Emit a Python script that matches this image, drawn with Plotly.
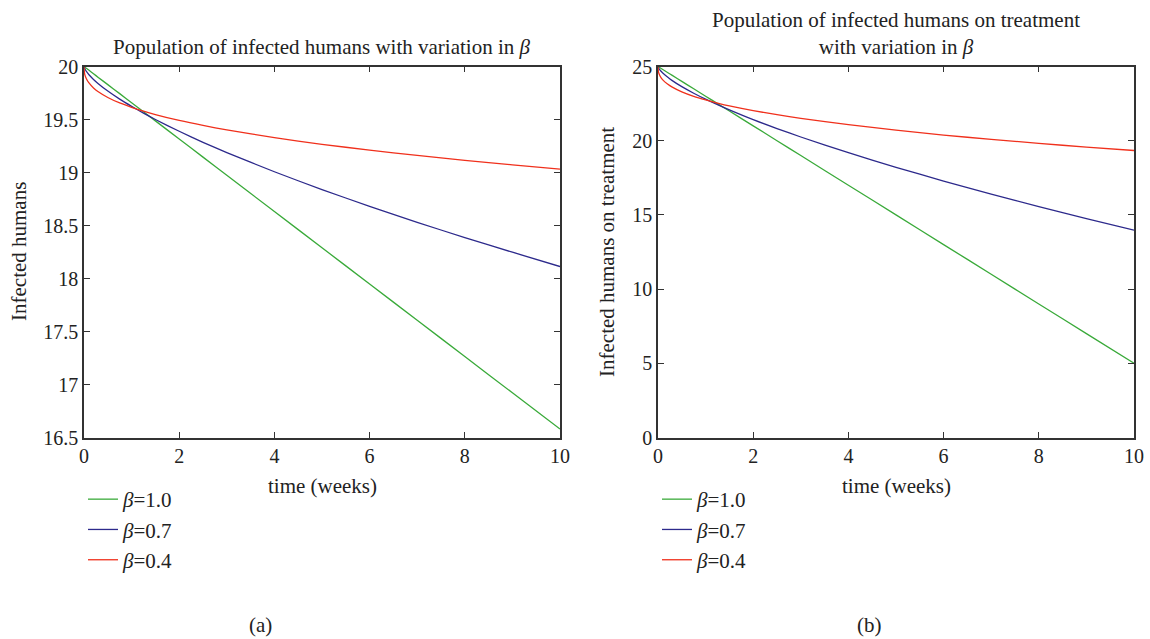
import plotly.graph_objects as go

# time points (weeks)
t = [0, 0.01, 0.02, 0.05, 0.1, 0.2, 0.3, 0.5, 0.75, 1, 1.25, 1.5, 2, 2.5, 3, 4, 5, 6, 7, 8, 9, 10]

# (a) infected humans
infected_b10 = [20.0, 19.997, 19.993, 19.983, 19.966, 19.932, 19.897, 19.829, 19.744, 19.658, 19.573,
                19.487, 19.316, 19.145, 18.974, 18.632, 18.29, 17.948, 17.606, 17.264, 16.922, 16.58]
infected_b07 = [20.0, 19.985, 19.976, 19.954, 19.925, 19.878, 19.838, 19.768, 19.692, 19.624, 19.56,
                19.50, 19.389, 19.285, 19.188, 19.007, 18.839, 18.681, 18.53, 18.386, 18.248, 18.113]
infected_b04 = [20.0, 19.939, 19.919, 19.884, 19.847, 19.798, 19.762, 19.708, 19.656, 19.615, 19.579,
                19.547, 19.491, 19.444, 19.402, 19.329, 19.266, 19.211, 19.161, 19.115, 19.072, 19.032]

# (b) infected humans on treatment
treat_b10 = [25.0, 24.98, 24.96, 24.9, 24.8, 24.6, 24.4, 24.0, 23.5, 23.0, 22.5,
             22.0, 21.0, 20.0, 19.0, 17.0, 15.0, 13.0, 11.0, 9.0, 7.0, 5.0]
treat_b07 = [25.0, 24.91, 24.86, 24.73, 24.56, 24.29, 24.05, 23.64, 23.20, 22.80, 22.43,
             22.08, 21.42, 20.82, 20.25, 19.19, 18.21, 17.28, 16.40, 15.56, 14.75, 13.97]
treat_b04 = [25.0, 24.64, 24.53, 24.32, 24.10, 23.82, 23.61, 23.29, 22.99, 22.75, 22.54,
             22.35, 22.03, 21.75, 21.50, 21.08, 20.71, 20.38, 20.09, 19.82, 19.57, 19.34]

x_ticks = [0, 2, 4, 6, 8, 10]
ya_ticks = [16.5, 17, 17.5, 18, 18.5, 19, 19.5, 20]
ya_text = ["16.5", "17", "17.5", "18", "18.5", "19", "19.5", "20"]
yb_ticks = [0, 5, 10, 15, 20, 25]

labels = ["<i>β</i>=1.0", "<i>β</i>=0.7", "<i>β</i>=0.4"]
colors = ["#3aaa3a", "#2d2a8c", "#f0301c"]

FONT = "Liberation Serif"
W, H = 1150, 639
TXT = 21
TICK = 20

fig = go.Figure()

left_series = [infected_b10, infected_b07, infected_b04]
right_series = [treat_b10, treat_b07, treat_b04]

for i, ys in enumerate(left_series):
    fig.add_trace(go.Scatter(x=t, y=ys, mode="lines", name=labels[i],
                             line=dict(color=colors[i], width=1.3, shape="spline", smoothing=0.6),
                             xaxis="x", yaxis="y", legend="legend", legendgroup=f"a{i}"))
for i, ys in enumerate(right_series):
    fig.add_trace(go.Scatter(x=t, y=ys, mode="lines", name=labels[i],
                             line=dict(color=colors[i], width=1.3, shape="spline", smoothing=0.6),
                             xaxis="x2", yaxis="y2", legend="legend2", legendgroup=f"b{i}"))

axis_common = dict(showline=True, linecolor="#333333", linewidth=1.5, mirror="ticks",
                   ticks="inside", ticklen=6, tickwidth=1.2, tickcolor="#333333",
                   showgrid=False, zeroline=False, automargin=False,
                   tickfont=dict(family=FONT, size=TICK, color="#222222"))

ytop, ybot = 1 - 66.5 / H, 1 - 437.5 / H

leg_font = dict(family=FONT, size=TXT, color="#222222")

fig.update_layout(
    autosize=True,
    margin=dict(l=0, r=0, t=0, b=0, autoexpand=False),
    paper_bgcolor="white", plot_bgcolor="white",
    font=dict(family=FONT, size=TXT, color="#222222"),
    xaxis=dict(domain=[84 / W, 560 / W], range=[0, 10], tickvals=x_ticks, anchor="y", **axis_common),
    yaxis=dict(domain=[ybot, ytop], range=[16.5, 20], tickvals=ya_ticks, ticktext=ya_text,
               anchor="x", **axis_common),
    xaxis2=dict(domain=[658 / W, 1134 / W], range=[0, 10], tickvals=x_ticks, anchor="y2", **axis_common),
    yaxis2=dict(domain=[ybot, ytop], range=[0, 25], tickvals=yb_ticks, anchor="x2", **axis_common),
    legend=dict(x=83 / W, y=1 - 479 / H, xanchor="left", yanchor="top",
                font=leg_font, tracegroupgap=0, bgcolor="rgba(0,0,0,0)"),
    legend2=dict(x=657 / W, y=1 - 479 / H, xanchor="left", yanchor="top",
                 font=leg_font, tracegroupgap=0, bgcolor="rgba(0,0,0,0)"),
    showlegend=True,
)

ann_font = dict(family=FONT, size=TXT, color="#222222")
annotations = [
    dict(text="Population of infected humans with variation in <i>β</i>", x=322 / W, y=1 - 61 / H,
         xanchor="center", yanchor="bottom", showarrow=False, font=ann_font),
    dict(text="Population of infected humans on treatment<br>with variation in <i>β</i>", x=896 / W, y=1 - 61 / H,
         xanchor="center", yanchor="bottom", showarrow=False, font=ann_font),
    dict(text="Infected humans", x=19 / W, y=1 - 252 / H, xanchor="center", yanchor="middle",
         textangle=-90, showarrow=False, font=ann_font),
    dict(text="Infected humans on treatment", x=607 / W, y=1 - 252 / H, xanchor="center", yanchor="middle",
         textangle=-90, showarrow=False, font=ann_font),
    dict(text="time (weeks)", x=322 / W, y=1 - 486 / H, xanchor="center", yanchor="middle",
         showarrow=False, font=ann_font),
    dict(text="time (weeks)", x=896 / W, y=1 - 486 / H, xanchor="center", yanchor="middle",
         showarrow=False, font=ann_font),
    dict(text="(a)", x=260 / W, y=1 - 625 / H, xanchor="center", yanchor="middle",
         showarrow=False, font=ann_font),
    dict(text="(b)", x=869 / W, y=1 - 625 / H, xanchor="center", yanchor="middle",
         showarrow=False, font=ann_font),
]
for a in annotations:
    a["xref"] = "paper"
    a["yref"] = "paper"
fig.update_layout(annotations=annotations)

fig.write_html("out.html")
